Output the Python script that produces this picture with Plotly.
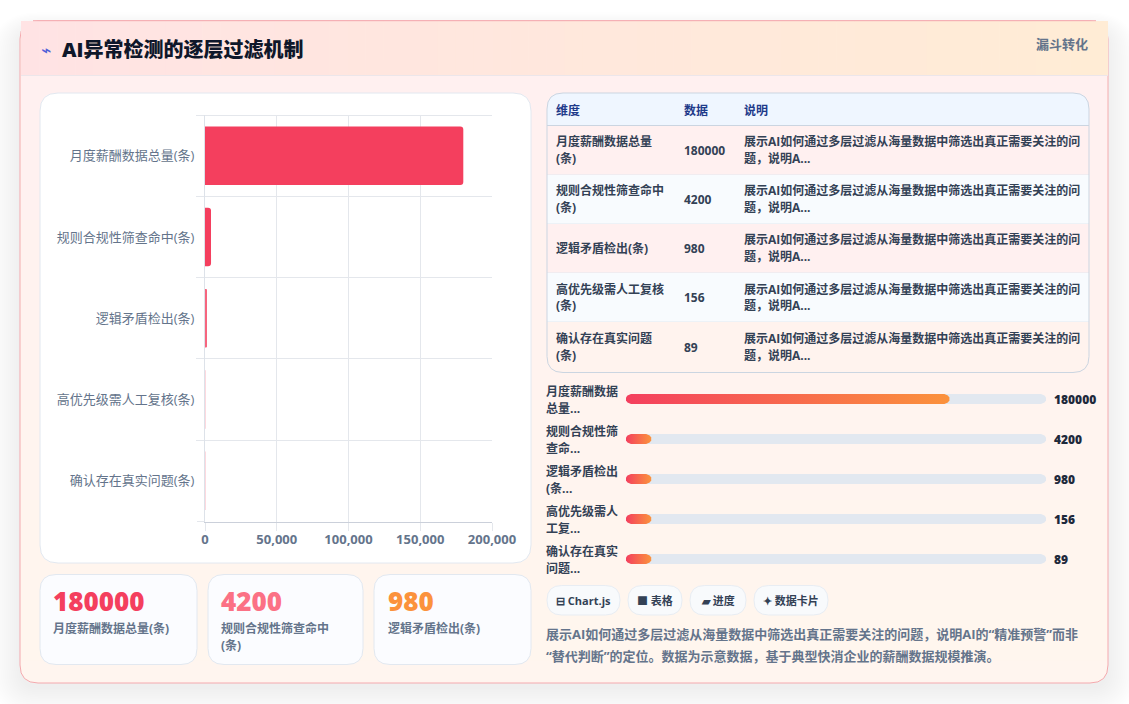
import plotly.graph_objects as go

# ---- chart data ----
categories = ["月度薪酬数据总量(条)", "规则合规性筛查命中(条)", "逻辑矛盾检出(条)", "高优先级需人工复核(条)", "确认存在真实问题(条)"]
values = [180000, 4200, 980, 156, 89]
bar_opacity = [1, 1, 0.8, 0.2, 0.2]
x_ticks = [0, 50000, 100000, 150000, 200000]
x_tick_labels = ["0", "50,000", "100,000", "150,000", "200,000"]

table_header = ["维度", "数据", "说明"]
table_names = [["月度薪酬数据总量", "(条)"], ["规则合规性筛查命中", "(条)"], ["逻辑矛盾检出(条)"],
               ["高优先级需人工复核", "(条)"], ["确认存在真实问题", "(条)"]]
table_note = ["展示AI如何通过多层过滤从海量数据中筛选出真正需要关注的问", "题，说明A..."]

progress_names = [["月度薪酬数据", "总量..."], ["规则合规性筛", "查命..."], ["逻辑矛盾检出", "(条..."],
                  ["高优先级需人", "工复..."], ["确认存在真实", "问题..."]]
progress_pct = [77, 6, 6, 6, 6]

kpi_names = [["月度薪酬数据总量(条)"], ["规则合规性筛查命中", "(条)"], ["逻辑矛盾检出(条)"]]
kpi_colors = ["#f43f5e", "#fb7185", "#fb923c"]

chips = ["⊟ Chart.js", "■ 表格", "▰ 进度", "✦ 数据卡片"]
summary = ["展示AI如何通过多层过滤从海量数据中筛选出真正需要关注的问题，说明AI的“精准预警”而非",
           "“替代判断”的定位。数据为示意数据，基于典型快消企业的薪酬数据规模推演。"]

W, H = 1129, 704
FONT = "'Open Sans', 'Noto Sans CJK SC', sans-serif"
GRID = "#e4e7ec"
shapes, notes = [], []


def px(x):
    return x / W


def py(y):
    return 1 - y / H


def rounded_path(x0, y0, x1, y1, r_tl, r_tr=None, r_br=None, r_bl=None):
    r_tr = r_tl if r_tr is None else r_tr
    r_br = r_tl if r_br is None else r_br
    r_bl = r_tl if r_bl is None else r_bl
    return (f"M {px(x0 + r_tl)} {py(y0)} L {px(x1 - r_tr)} {py(y0)} "
            f"Q {px(x1)} {py(y0)} {px(x1)} {py(y0 + r_tr)} L {px(x1)} {py(y1 - r_br)} "
            f"Q {px(x1)} {py(y1)} {px(x1 - r_br)} {py(y1)} L {px(x0 + r_bl)} {py(y1)} "
            f"Q {px(x0)} {py(y1)} {px(x0)} {py(y1 - r_bl)} L {px(x0)} {py(y0 + r_tl)} "
            f"Q {px(x0)} {py(y0)} {px(x0 + r_tl)} {py(y0)} Z")


def box(x0, y0, x1, y1, fill, line=None, width=1, r=0, radii=None):
    radii = radii if radii else (r, r, r, r)
    shapes.append(dict(type="path", xref="paper", yref="paper", layer="below",
                       path=rounded_path(x0, y0, x1, y1, *radii), fillcolor=fill,
                       line=dict(color=line or "rgba(0,0,0,0)", width=width if line else 0)))


def hline(x0, x1, y, color, width=1):
    shapes.append(dict(type="line", xref="paper", yref="paper", layer="below",
                       x0=px(x0), x1=px(x1), y0=py(y), y1=py(y), line=dict(color=color, width=width)))


def label(x, y, text, size, color, weight=700, anchor="left", font=FONT):
    notes.append(dict(xref="paper", yref="paper", x=px(x), y=py(y), text=text, showarrow=False,
                      xanchor=anchor, yanchor="middle", align=anchor, borderpad=0, borderwidth=0,
                      font=dict(family=font, size=size, color=color, weight=weight)))


def mix(c0, c1, t):
    a = [int(c0[i:i + 2], 16) for i in (1, 3, 5)]
    b = [int(c1[i:i + 2], 16) for i in (1, 3, 5)]
    return "rgb(" + ",".join(str(round(p + (q - p) * t)) for p, q in zip(a, b)) + ")"


# soft drop shadow behind the card, heavier towards the bottom
for i in range(16):
    spread = 30 - i * 2
    box(20 - spread, 30 - spread * 0.6, 1108 + spread, 683 + spread * 0.9 + 6, "rgba(15,23,42,0.0050)", r=18 + spread)

# card body with a top-to-bottom tint
box(20, 21, 1108, 683, "#fff5ef", r=18)
strip_count = 30
for i in range(strip_count):
    t = i / (strip_count - 1)
    y0 = 60 + i * (660 - 60) / strip_count
    y1 = 60 + (i + 1) * (660 - 60) / strip_count + 0.5
    shapes.append(dict(type="rect", xref="paper", yref="paper", layer="below",
                       x0=px(21), x1=px(1107), y0=py(y0), y1=py(y1),
                       fillcolor=mix("#fff0f0", "#fff6ee", t), line=dict(width=0)))
box(20, 21, 1108, 683, "rgba(0,0,0,0)", line="#f4a9ae", width=1, r=18)

# header band with a left-to-right tint
slice_count = 60
for i in range(slice_count):
    t = i / (slice_count - 1)
    x0 = 21 + i * (1108 - 21) / slice_count
    x1 = 21 + (i + 1) * (1108 - 21) / slice_count + 0.5
    shapes.append(dict(type="rect", xref="paper", yref="paper", layer="below",
                       x0=px(x0), x1=px(min(x1, 1108)), y0=py(21), y1=py(75),
                       fillcolor=mix("#ffe3e4", "#ffecd5", t), line=dict(width=0)))
hline(21, 1108, 75.5, "#ece6ea")
hline(33, 1096, 20.7, "#f4a9ae")

label(41, 50, "⌁", 17, "#4f5fd8", 700, font="'DejaVu Sans'")
label(62, 49.5, "AI异常检测的逐层过滤机制", 20, "#0f172a", 900)
label(1088, 44, "漏斗转化", 13, "#64748b", 700, anchor="right")

# chart panel, with the closing rules of the plot frame
box(40, 93, 531, 563, "#ffffff", line="#e2e8f0", r=18)
hline(197, 492, 115.5, GRID)
hline(197, 205, 521.5, GRID)

# KPI cards under the chart
kpi_boxes = [(40, 197, 53), (208, 363, 221), (374, 531, 388)]
for (x0, x1, tx), v, names, color in zip(kpi_boxes, values, kpi_names, kpi_colors):
    box(x0, 574.5, x1, 664.5, "#fbfcff", line="#e2e8f0", r=16)
    label(tx, 601, str(v), 26, color, 800)
    for j, line in enumerate(names):
        label(tx, 628 + j * 17, line, 12, "#64748b", 700)

# data table
TX0, TX1 = 547, 1089
row_edges = [125.5, 175, 224, 273, 322, 372.5]
row_fills = ["#fff0f0", "#f8fbfe", "#fff0f0", "#f8fbfe", "#fff3ee"]
box(TX0, 93, TX1, 125.5, "#eff6ff", radii=(16, 16, 0, 0))
for i in range(5):
    radii = (0, 0, 16, 16) if i == 4 else None
    box(TX0, row_edges[i], TX1, row_edges[i + 1], row_fills[i], radii=radii)
    if i < 4:
        hline(TX0, TX1, row_edges[i + 1], "#e2e8f0")
hline(TX0, TX1, 125.5, "#cbd5e1")
box(TX0, 93, TX1, 372.5, "rgba(0,0,0,0)", line="#cbd5e1", r=16)

for x, head in zip((556, 684, 744), table_header):
    label(x, 110, head, 12, "#1e3a8a", 700)
for i in range(5):
    mid = (row_edges[i] + row_edges[i + 1]) / 2
    name = table_names[i]
    for j, line in enumerate(name):
        label(556, mid + (j - (len(name) - 1) / 2) * 17, line, 12, "#334155", 700)
    label(684, mid, str(values[i]), 12, "#334155", 700)
    for j, line in enumerate(table_note):
        label(744, mid + (j - 0.5) * 17, line, 12, "#334155", 700)

# progress row captions and figures
row_y = [399, 439, 479, 519, 559]
for y, names, v in zip(row_y, progress_names, values):
    label(546, y - 8, names[0], 12, "#334155", 700)
    label(546, y + 9, names[1], 12, "#334155", 700)
    label(1054, y + 0.5, str(v), 12, "#1e293b", 800)

# method chips
chip_boxes = [(547, 620), (628, 682), (690, 746), (754, 828)]
for (x0, x1), text in zip(chip_boxes, chips):
    box(x0, 585.5, x1, 615, "#f8fafc", line="#e8edf3", r=14.7)
    label((x0 + x1) / 2, 600.5, text, 11, "#334155", 700, anchor="center")

# summary text
for y, line in zip((634, 656), summary):
    label(546, y, line, 13, "#64748b", 700)

fig = go.Figure()

# horizontal bars on the chart's value axis
fig.add_trace(go.Bar(y=categories, x=values, orientation="h", xaxis="x", yaxis="y",
                     marker=dict(color="#f43f5e", opacity=bar_opacity, line=dict(width=0)),
                     hoverinfo="x+y", showlegend=False))

# progress tracks and fills, one pill per row on a 0-100 scale
R_X = 5 / 420 * 100
R_Y = 0.125


def pill(end):
    xs = [R_X, end - R_X, end - 0.3 * R_X, end, end, end - 0.3 * R_X, end - R_X, R_X, 0.3 * R_X, 0, 0, 0.3 * R_X, R_X]
    ys = [-1, -1, -0.72, -0.3, 0.3, 0.72, 1, 1, 0.72, 0.3, -0.3, -0.72, -1]
    return xs, [v * R_Y for v in ys]


for row, pct in enumerate(progress_pct):
    xs, ys = pill(100)
    fig.add_trace(go.Scatter(x=xs, y=[row + v for v in ys], xaxis="x2", yaxis="y2", mode="lines",
                             fill="toself", fillcolor="#e2e8f0", line=dict(width=0),
                             hoverinfo="skip", showlegend=False))
    xs, ys = pill(pct)
    fig.add_trace(go.Scatter(x=xs, y=[row + v for v in ys], xaxis="x2", yaxis="y2", mode="lines",
                             fill="toself", line=dict(width=0),
                             fillgradient=dict(type="horizontal",
                                               colorscale=[[0, "#f43f5e"], [1, "#fb923c"]]),
                             hoverinfo="skip", showlegend=False))

fig.update_layout(
    width=W, height=H, autosize=False, margin=dict(l=0, r=0, t=0, b=0),
    paper_bgcolor="#ffffff", plot_bgcolor="rgba(0,0,0,0)",
    font=dict(family=FONT), shapes=shapes, annotations=notes,
    bargap=0.28, barcornerradius=3, showlegend=False,
    xaxis=dict(domain=[px(205), px(492)], range=[0, 200000], tickvals=x_ticks, ticktext=x_tick_labels,
               automargin=False, showgrid=True, gridcolor=GRID, gridwidth=1, zeroline=False, showline=True,
               linecolor="#cbd0da", linewidth=1, ticks="outside", ticklen=8, tickcolor=GRID,
               ticklabelstandoff=-2, anchor="y",
               tickfont=dict(family=FONT, size=13, color="#64748b", weight=700)),
    yaxis=dict(domain=[py(521.5), py(115)], type="category", categoryorder="array", categoryarray=categories,
               automargin=False, autorange=False, range=[4.5, -0.5], tickson="boundaries", showgrid=True,
               gridcolor=GRID, gridwidth=1, zeroline=False, showline=True, linecolor="#dde2e9", linewidth=1,
               ticks="outside", ticklen=8, tickcolor=GRID, ticklabelstandoff=7, anchor="x",
               tickfont=dict(family=FONT, size=13, color="#64748b")),
    xaxis2=dict(domain=[px(626), px(1046)], range=[0, 100], visible=False, anchor="y2", fixedrange=True, automargin=False),
    yaxis2=dict(domain=[py(579), py(379)], range=[4.5, -0.5], visible=False, anchor="x2", fixedrange=True, automargin=False),
)

fig.write_html("out.html", config=dict(displayModeBar=False))
